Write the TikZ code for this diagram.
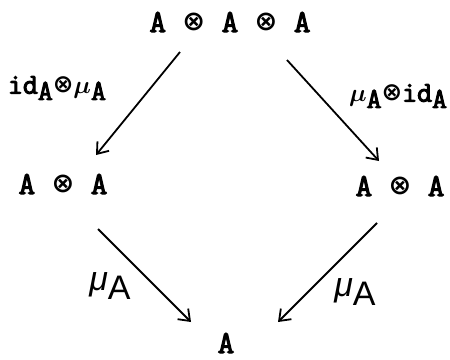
\documentclass[tikz,border=0pt]{standalone}
\usepackage{amsmath}
\usepackage{fontspec}
\newfontfamily\tw[AutoFakeBold=3.5]{Latin Modern Mono}
\newfontfamily\handfont{Liberation Sans}
\newfontfamily\symfont{DejaVu Sans}
\usetikzlibrary{arrows.meta}
\newcommand{\lowsub}[1]{\raisebox{-0.5ex}{#1}}
\newcommand{\tensor}{\raisebox{0.1ex}{\scalebox{0.85}{\symfont\bfseries ⊗}}}
\newcommand{\mymu}{$\boldsymbol{\mu}$}
\begin{document}
\begin{tikzpicture}[x=1pt,y=-1pt,
  obj/.style={inner sep=0pt, font=\tw\bfseries\fontsize{32}{36}\selectfont},
  lab/.style={inner sep=0pt, font=\tw\bfseries\fontsize{29}{33}\selectfont},
  hand/.style={inner sep=0pt, font=\handfont\fontsize{34}{38}\selectfont},
  arr/.style={line width=1.8pt, -{Straight Barb[length=10pt,width=15pt,line width=1.8pt]}}]
\useasboundingbox (0,0) rectangle (450,359);
\node[obj] (top) at (230,22) {A \tensor{} A \tensor{} A};
\node[obj] (left) at (63,184) {A \tensor{} A};
\node[obj] (right) at (400,186) {A \tensor{} A};
\node[obj] (bot) at (226,343) {A};
\node[lab] (l1) at (57,88) {id\lowsub{A}\tensor\mymu\lowsub{A}};
\node[lab] (l2) at (398,96) {\mymu\lowsub{A}\tensor id\lowsub{A}};
\node[hand] (l3) at (110,286) {\textit{μ}\lowsub{A}};
\node[hand] (l4) at (355,292) {\textit{μ}\lowsub{A}};
\coordinate (s1) at (180,52);
\coordinate (e1) at (96,155);
\coordinate (s2) at (287,60);
\coordinate (e2) at (379,161);
\coordinate (s3) at (98,229);
\coordinate (e3) at (191,322);
\coordinate (s4) at (377,223);
\coordinate (e4) at (278,322);
\draw[arr] (s1) -- (e1);
\draw[arr] (s2) -- (e2);
\draw[arr] (s3) -- (e3);
\draw[arr] (s4) -- (e4);
\end{tikzpicture}
\end{document}
